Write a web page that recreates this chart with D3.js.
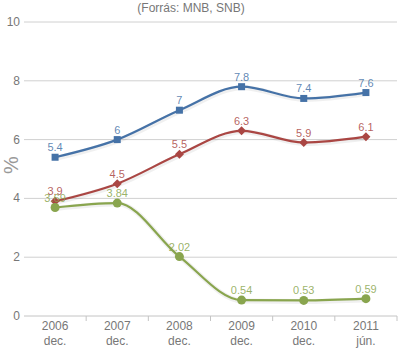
<!DOCTYPE html>
<html>
<head>
<meta charset="utf-8">
<script src="https://cdn.jsdelivr.net/npm/d3@7"></script>
<style>
  html, body { margin: 0; padding: 0; background: #fff; }
  svg { display: block; font-family: "Liberation Sans", Arial, sans-serif; }
</style>
</head>
<body>
<svg id="chart" width="400" height="349"></svg>
<script>
// Periods on the x axis (two-line labels)
const years = ["2006", "2007", "2008", "2009", "2010", "2011"];
const months = ["dec.", "dec.", "dec.", "dec.", "dec.", "jún."];

// Series values (%)
const blueValues = [5.4, 6, 7, 7.8, 7.4, 7.6];
const redValues = [3.9, 4.5, 5.5, 6.3, 5.9, 6.1];
const greenValues = [3.69, 3.84, 2.02, 0.54, 0.53, 0.59];

const yTicks = [0, 2, 4, 6, 8, 10];

const series = [
  { values: blueValues, color: "#4572A7", marker: "square" },
  { values: redValues, color: "#AA4643", marker: "diamond" },
  { values: greenValues, color: "#89A54E", marker: "circle" }
];

const svg = d3.select("#chart");
const plotLeft = 24, plotRight = 397, plotTop = 22, plotBottom = 316;

const x = d3.scaleBand().domain(years).range([plotLeft, plotRight]);
const y = d3.scaleLinear().domain([0, 10]).range([plotBottom, plotTop]);
const cx = d => x(d) + x.bandwidth() / 2;

// Subtitle
svg.append("text")
  .attr("x", 191).attr("y", 12)
  .attr("text-anchor", "middle")
  .attr("font-size", 12)
  .attr("fill", "#777")
  .text("(Forrás: MNB, SNB)");

// Horizontal grid
svg.append("g").selectAll("line")
  .data(yTicks.filter(t => t > 0))
  .join("line")
  .attr("x1", plotLeft).attr("x2", plotRight)
  .attr("y1", d => y(d)).attr("y2", d => y(d))
  .attr("stroke", "#d0d0d0").attr("stroke-width", 1);

// Y tick labels
svg.append("g").selectAll("text")
  .data(yTicks)
  .join("text")
  .attr("x", 20).attr("y", d => y(d) + 4)
  .attr("text-anchor", "end")
  .attr("font-size", 12)
  .attr("fill", "#777")
  .text(d => d);

// Y axis title
svg.append("text")
  .attr("transform", "translate(18,165) rotate(-90)")
  .attr("text-anchor", "middle")
  .attr("font-size", 20)
  .attr("fill", "#999")
  .text("%");

// X axis line
svg.append("line")
  .attr("x1", plotLeft).attr("x2", plotRight)
  .attr("y1", plotBottom).attr("y2", plotBottom)
  .attr("stroke", "#c4c4c4").attr("stroke-width", 1);

// X ticks at band boundaries
svg.append("g").selectAll("line")
  .data(years)
  .join("line")
  .attr("x1", d => x(d) + x.bandwidth())
  .attr("x2", d => x(d) + x.bandwidth())
  .attr("y1", plotBottom).attr("y2", plotBottom + 5)
  .attr("stroke", "#c4c4c4");

// X labels
const xl = svg.append("g").selectAll("text")
  .data(years)
  .join("text")
  .attr("text-anchor", "middle")
  .attr("font-size", 12)
  .attr("fill", "#777");
xl.append("tspan").attr("x", d => cx(d)).attr("y", 330).text(d => d);
xl.append("tspan").attr("x", d => cx(d)).attr("y", 345).text((d, i) => months[i]);

const line = d3.line()
  .x((d, i) => cx(years[i]))
  .y(d => y(d))
  .curve(d3.curveMonotoneX);

series.forEach(s => {
  const g = svg.append("g");
  // soft shadow under the line
  g.append("path")
    .attr("d", line(s.values))
    .attr("fill", "none")
    .attr("stroke", "#000").attr("stroke-opacity", 0.06)
    .attr("stroke-width", 5)
    .attr("transform", "translate(1,1)");
  g.append("path")
    .attr("d", line(s.values))
    .attr("fill", "none")
    .attr("stroke", s.color)
    .attr("stroke-width", 2.2);

  s.values.forEach((v, i) => {
    const px = cx(years[i]), py = y(v);
    if (s.marker === "square") {
      g.append("rect").attr("x", px - 3.5).attr("y", py - 3.5)
        .attr("width", 7).attr("height", 7).attr("fill", s.color);
    } else if (s.marker === "diamond") {
      g.append("path")
        .attr("d", `M${px},${py - 4.5}L${px + 4.5},${py}L${px},${py + 4.5}L${px - 4.5},${py}Z`)
        .attr("fill", s.color);
    } else {
      g.append("circle").attr("cx", px).attr("cy", py).attr("r", 4.5).attr("fill", s.color);
    }
  });

  g.selectAll("text.lbl")
    .data(s.values)
    .join("text")
    .attr("class", "lbl")
    .attr("x", (d, i) => cx(years[i]))
    .attr("y", d => y(d) - 6)
    .attr("text-anchor", "middle")
    .attr("font-size", 11)
    .attr("fill", s.color)
    .attr("fill-opacity", 0.85)
    .text(d => d);
});
</script>
</body>
</html>
